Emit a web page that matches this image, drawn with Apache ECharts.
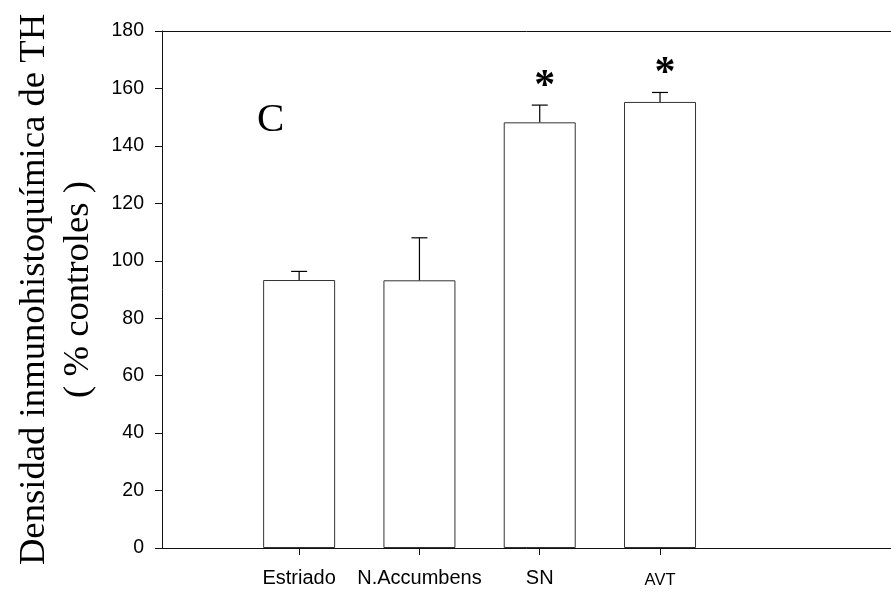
<!DOCTYPE html>
<html>
<head>
<meta charset="utf-8">
<script src="https://cdn.jsdelivr.net/npm/echarts@6/dist/echarts.min.js"></script>
<style>
  html, body { margin: 0; padding: 0; background: #fff; }
  #chart { width: 891px; height: 594px; }
</style>
</head>
<body>
<div id="chart"></div>
<script>
// Regions measured
const categories = ['Estriado', 'N.Accumbens', 'SN', 'AVT'];
// Mean TH immunostaining density (% of controls)
const means = [93.3, 93.2, 148.2, 155.3];
// Upper error (SEM)
const errors = [3.0, 14.8, 6.0, 3.3];
// Significance markers
const significance = ['', '', '*', '*'];
// Category positions on the x scale
const positions = [1, 2, 3, 4];

const chart = echarts.init(document.getElementById('chart'), null, { renderer: 'canvas' });

const axisColor = '#111';
const xMin = -0.14, xMax = 5.92;

const option = {
  backgroundColor: '#fff',
  animation: false,
  grid: { left: 162, right: 0, top: 31, bottom: 46, containLabel: false, outerBoundsMode: 'none' },
  xAxis: [
    {
      type: 'value',
      min: xMin,
      max: xMax,
      axisLine: { show: true, onZero: false, lineStyle: { color: axisColor, width: 1 } },
      axisTick: { show: true, length: 7, customValues: positions, lineStyle: { color: axisColor, width: 1 } },
      axisLabel: {
        show: true,
        customValues: positions,
        margin: 20,
        fontFamily: 'Liberation Sans',
        fontSize: 20,
        color: '#000',
        formatter: function (v) {
          const i = positions.indexOf(v);
          if (i < 0) return '';
          return categories[i] === 'AVT' ? '{s|' + categories[i] + '}' : categories[i];
        },
        rich: {
          s: { fontFamily: 'Liberation Sans', fontSize: 16.5, color: '#000', padding: [4, 0, 0, 0] }
        }
      },
      splitLine: { show: false }
    },
    {
      type: 'value',
      position: 'top',
      min: xMin,
      max: xMax,
      axisLine: { show: true, onZero: false, lineStyle: { color: axisColor, width: 1 } },
      axisTick: { show: false },
      axisLabel: { show: false },
      splitLine: { show: false }
    }
  ],
  yAxis: {
    type: 'value',
    min: 0,
    max: 180,
    interval: 20,
    name: 'Densidad inmunohistoquímica de TH\n( % controles )',
    nameLocation: 'middle',
    nameGap: 55,
    nameRotate: 90,
    nameTextStyle: { fontFamily: 'Liberation Serif', fontSize: 36.7, lineHeight: 44, color: '#000' },
    axisLine: { show: true, onZero: false, lineStyle: { color: axisColor, width: 1 } },
    axisTick: { show: true, length: 7, lineStyle: { color: axisColor, width: 1 } },
    axisLabel: { margin: 18, fontFamily: 'Liberation Sans', fontSize: 19.5, color: '#000' },
    splitLine: { show: false }
  },
  graphic: [
    {
      type: 'text',
      left: 257,
      top: 100,
      style: { text: 'C', fontFamily: 'Liberation Serif', fontSize: 41, fill: '#000' }
    }
  ],
  series: [
    {
      type: 'bar',
      xAxisIndex: 0,
      barWidth: 72,
      data: means.map((v, i) => [positions[i], v]),
      itemStyle: { color: '#fff', borderColor: '#333', borderWidth: 1 },
      z: 2
    },
    {
      type: 'custom',
      xAxisIndex: 0,
      z: 3,
      data: means.map((v, i) => [positions[i], v, v + errors[i], i]),
      renderItem: function (params, api) {
        const base = api.coord([api.value(0), api.value(1)]);
        const top = api.coord([api.value(0), api.value(2)]);
        const idx = api.value(3);
        const half = 8;
        const children = [
          { type: 'line', shape: { x1: base[0], y1: base[1], x2: top[0], y2: top[1] },
            style: { stroke: '#000', lineWidth: 1.2 } },
          { type: 'line', shape: { x1: top[0] - half, y1: top[1], x2: top[0] + half, y2: top[1] },
            style: { stroke: '#000', lineWidth: 1.2 } }
        ];
        if (significance[idx]) {
          children.push({
            type: 'text',
            x: top[0] + 5,
            y: top[1] + 3,
            style: {
              text: significance[idx],
              fontFamily: 'Liberation Serif',
              fontSize: 42,
              fontWeight: 'bold',
              fill: '#000',
              align: 'center',
              verticalAlign: 'bottom'
            }
          });
        }
        return { type: 'group', children: children };
      }
    }
  ]
};

chart.setOption(option);
</script>
</body>
</html>
